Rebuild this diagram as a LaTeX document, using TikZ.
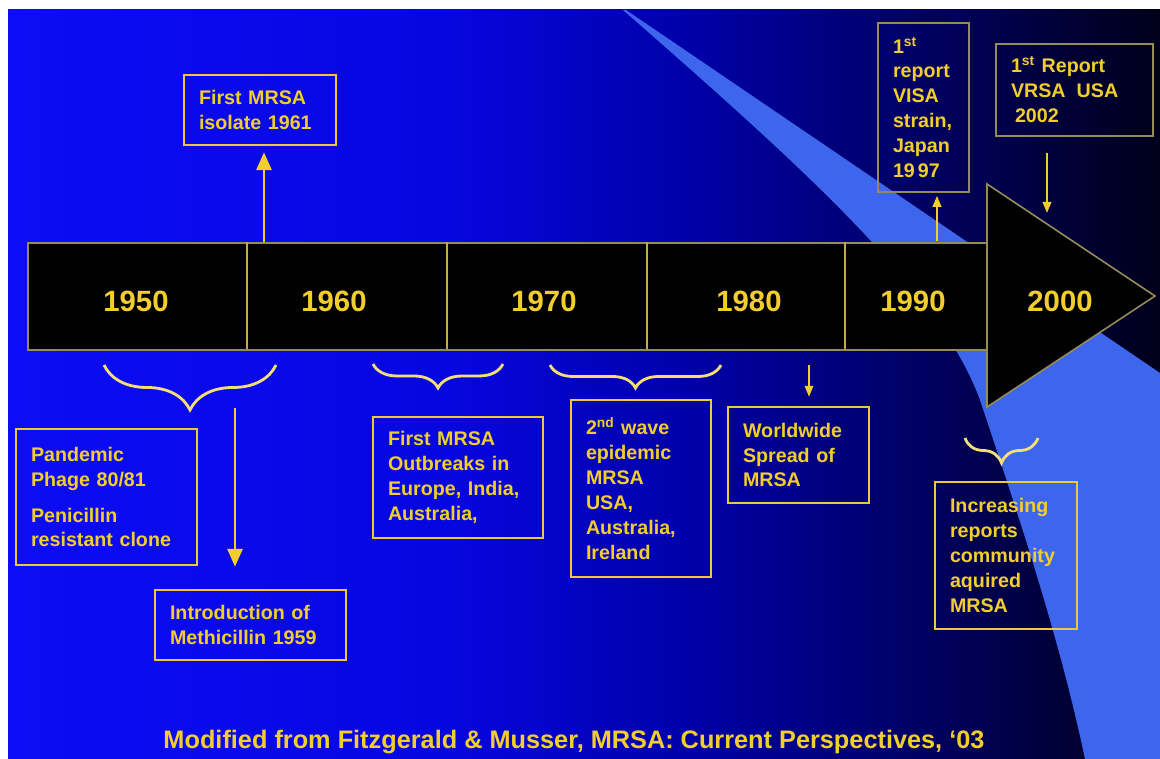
\documentclass[tikz,border=0pt]{standalone}
\usepackage{fontspec}
\setmainfont{Liberation Sans}
\usetikzlibrary{arrows.meta,decorations.pathreplacing}
\definecolor{bgA}{RGB}{12,12,246}
\definecolor{bgB}{RGB}{6,6,224}
\definecolor{bgC}{RGB}{0,0,165}
\definecolor{bgD}{RGB}{0,0,105}
\definecolor{bgE}{RGB}{0,0,26}
\definecolor{lightblue}{RGB}{62,102,236}
\definecolor{gold}{RGB}{242,206,44}
\definecolor{boxgold}{RGB}{240,198,60}
\definecolor{bracegold}{RGB}{244,222,120}
\definecolor{dimgold}{RGB}{150,138,88}
\definecolor{divgold}{RGB}{196,172,64}
\pgfdeclarehorizontalshading{bgshade}{100bp}{color(0bp)=(bgA); color(25bp)=(bgA); color(44.2bp)=(bgB); color(55bp)=(bgC); color(63.7bp)=(bgD); color(75bp)=(bgE); color(100bp)=(bgE)}
\tikzset{
 box/.style={draw=boxgold, line width=1.4pt, text=gold, font=\bfseries\fontsize{11.2}{14.2}\selectfont, align=left, inner xsep=0.3cm, inner ysep=0pt},
 thinbox/.style={box, draw=dimgold, line width=0.9pt},
 yearlabel/.style={text=gold, font=\bfseries\fontsize{16.7}{20}\selectfont},
 captionlabel/.style={text=gold, font=\bfseries\fontsize{14.4}{17}\selectfont},
 thickarrow/.style={draw=gold, line width=1.7pt, -{Triangle[length=0.36cm,width=0.3cm]}},
 thinarrow/.style={draw=gold, line width=1.1pt, -{Triangle[length=0.22cm,width=0.17cm]}},
 bracepath/.style={draw=bracegold, line width=1.6pt, decorate, decoration={brace, amplitude=#1}},
}
\begin{document}
\begin{tikzpicture}[x=0.02cm,y=-0.02cm]
\useasboundingbox (0,0) rectangle (1160,759);
\fill[white] (0,0) rectangle (1160,759);
\shade[shading=bgshade] (8,10) rectangle (1160,759);
% light blue crescent
\fill[lightblue] (623,10) .. controls (800,165) and (940,290) .. (980,400)
  .. controls (1020,520) and (1060,640) .. (1085,759)
  -- (1160,759) -- (1160,373) -- (626,10) -- cycle;
% timeline bar
\node[fill=black, draw=dimgold, line width=0.9pt, minimum width=19.2cm, minimum height=2.14cm, anchor=north west, inner sep=0pt] (bar) at (27,242) {};
\filldraw[fill=black, draw=dimgold, line width=0.9pt] (987,184) -- (1155,296) -- (987,407) -- cycle;
\foreach \x in {247,447,647,845} \draw[divgold, line width=0.9pt] (\x,242) -- (\x,349);
\node[yearlabel] (y1950) at (136,301) {1950};
\node[yearlabel] (y1960) at (334,301) {1960};
\node[yearlabel] (y1970) at (544,301) {1970};
\node[yearlabel] (y1980) at (749,301) {1980};
\node[yearlabel] (y1990) at (913,301) {1990};
\node[yearlabel] (y2000) at (1060,301) {2000};
% boxes
\node[box, minimum width=3.04cm, minimum height=1.4cm, text width=2.44cm] (isolate) at (260,110) {First MRSA\\isolate 1961};
\node[box, minimum width=3.62cm, minimum height=2.72cm, text width=3.02cm] (pandemic) at (106.5,497) {Pandemic\\Phage 80/81\\[0.22cm]Penicillin\\resistant clone};
\node[box, minimum width=3.82cm, minimum height=1.4cm, text width=3.22cm] (intro) at (250.5,625) {Introduction of\\Methicillin 1959};
\node[box, minimum width=3.4cm, minimum height=2.42cm, text width=2.8cm] (outbreaks) at (458,477.5) {First MRSA\\Outbreaks in\\Europe, India,\\Australia,};
\node[box, minimum width=2.8cm, minimum height=3.54cm, text width=2.2cm] (wave) at (641,488.5) {2\textsuperscript{nd} wave\\epidemic\\MRSA\\USA,\\Australia,\\Ireland};
\node[box, minimum width=2.82cm, minimum height=1.92cm, text width=2.22cm] (spread) at (798.5,455) {Worldwide\\Spread of\\MRSA};
\node[box, minimum width=2.84cm, minimum height=2.94cm, text width=2.24cm] (community) at (1006,555.5) {Increasing\\reports\\community\\aquired\\MRSA};
\node[thinbox, minimum width=1.82cm, minimum height=3.38cm, text width=1.22cm] (visa) at (923.5,107.5) {1\textsuperscript{st}\\report\\VISA\\strain,\\Japan\\19\hspace{0.06cm}97};
\node[thinbox, minimum width=3.14cm, minimum height=1.84cm, text width=2.54cm] (vrsa) at (1074.5,90) {1\textsuperscript{st} Report\\VRSA\hspace{0.22cm}USA\\\hspace*{0.08cm}2002};
% arrows
\coordinate (p1) at (264,242);
\draw[thickarrow, shorten >=0.12cm] (p1) -- (p1 |- isolate.south);
\coordinate (p2) at (235,408);
\draw[thickarrow, shorten >=0.44cm] (p2) -- (p2 |- intro.north);
\coordinate (p3) at (809,365);
\draw[thinarrow, shorten >=0.18cm] (p3) -- (p3 |- spread.north);
\coordinate (p4) at (937,241);
\draw[thinarrow, shorten >=0.06cm] (p4) -- (p4 |- visa.south);
\coordinate (p5) at (1047,213);
\draw[thinarrow, shorten <=0.32cm] (p5 |- vrsa.south) -- (p5);
% braces
\draw[bracepath=0.9cm] (276,365) -- (104,365);
\draw[bracepath=0.48cm] (503,364) -- (373,364);
\draw[bracepath=0.46cm] (721,365) -- (550,365);
\draw[bracepath=0.5cm] (1038,438) -- (965,438);
% caption
\node[captionlabel, anchor=base] (cap) at (574,749) {Modified from Fitzgerald \& Musser, MRSA: Current Perspectives, ‘03};
\end{tikzpicture}
\end{document}
